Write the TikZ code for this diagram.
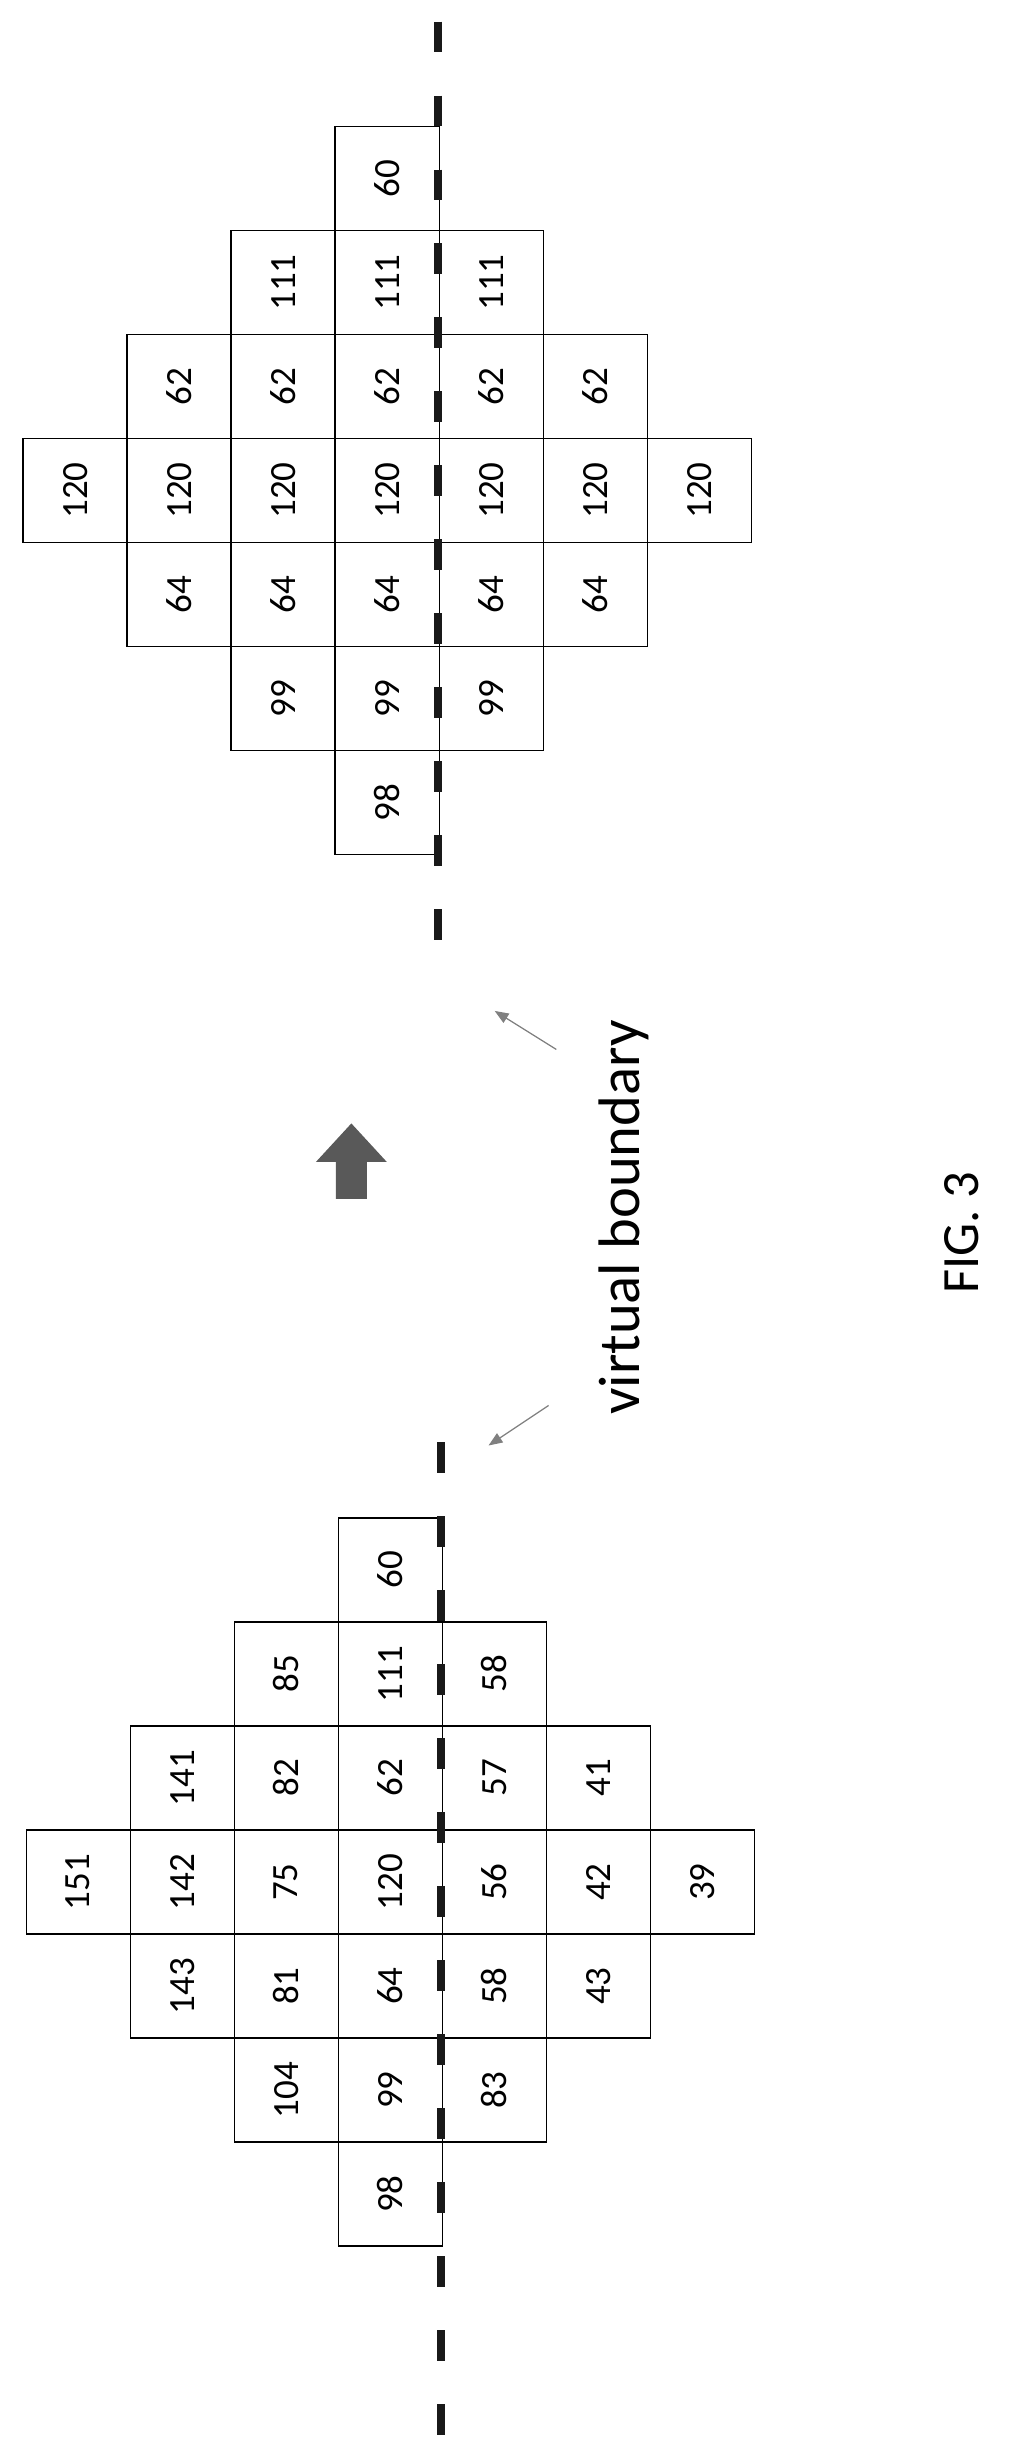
\documentclass[tikz,border=0pt]{standalone}
\usepackage{fontspec}
\setmainfont{Carlito}
\usetikzlibrary{arrows.meta}
\begin{document}
\begin{tikzpicture}[x=1pt,y=-1pt,
  cell/.style={draw,line width=0.9pt,minimum width=67.5pt,minimum height=67.5pt,inner sep=0pt,outer sep=0pt},
  num/.style={rotate=90,font=\fontsize{24}{24}\selectfont},
  vb/.style={line width=5pt,dash pattern=on 20pt off 28pt,gray!20!black},
  pointer/.style={gray,line width=0.8pt,-{Triangle[length=9pt,width=7pt]}}]
\useasboundingbox (0,0) rectangle (660,1584);
\newcommand{\diamondgrid}[3]{%
  \foreach \r/\vals in {#3}{%
    \foreach \v [count=\i from 0] in \vals{%
      \pgfmathtruncatemacro{\half}{3-abs(\r-3)}%
      \pgfmathsetmacro{\cx}{#1+(3-\half+\i)*67.5+33.75}%
      \pgfmathsetmacro{\cy}{#2+\r*67.5+33.75}%
      \node[cell] (#1c\r\i) at (\cx,\cy) {};
      \node[num] at (\cx,\cy) {\v};
    }}}
\diamondgrid{15}{82}{0/{60},1/{111,111,111},2/{62,62,62,62,62},3/{120,120,120,120,120,120,120},4/{64,64,64,64,64},5/{99,99,99},6/{98}}
\diamondgrid{17}{985}{0/{60},1/{85,111,58},2/{141,82,62,57,41},3/{151,142,75,120,56,42,39},4/{143,81,64,58,43},5/{104,99,83},6/{98}}
\coordinate (ua) at (284,14); \coordinate (ub) at (284,610);
\coordinate (la) at (286,936); \coordinate (lb) at (286,1582);
\draw[vb] (ua) -- (ub);
\draw[vb] (la) -- (lb);
\fill[gray!70!black] (218,778) -- (218,754) -- (205,754) -- (228,729) -- (251,754) -- (238,754) -- (238,778) -- cycle;
\node[rotate=90,font=\fontsize{38}{38}\selectfont] (lbl) at (405,790) {virtual boundary};
\coordinate (p1s) at (361,681); \coordinate (p1e) at (321,656);
\coordinate (p2s) at (356,912); \coordinate (p2e) at (317,938);
\draw[pointer] (p1s) -- (p1e);
\draw[pointer] (p2s) -- (p2e);
\node[rotate=90,font=\fontsize{34}{34}\selectfont] (fig) at (624,800) {FIG. 3};
\end{tikzpicture}
\end{document}
